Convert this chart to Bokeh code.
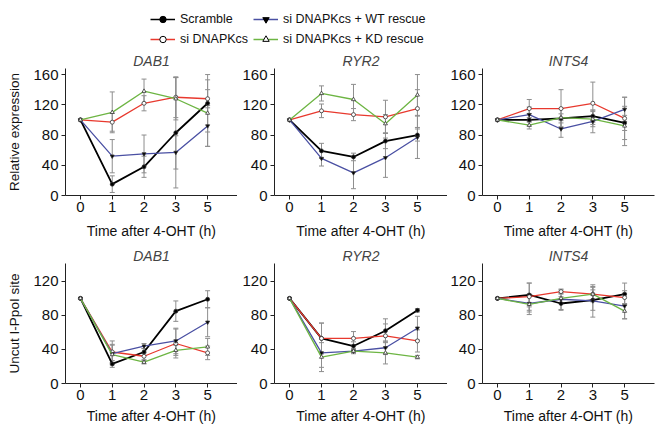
import numpy as np
from bokeh.plotting import figure
from bokeh.models import (ColumnDataSource, Range1d, FixedTicker, Whisker, TeeHead,
                          Legend, LegendItem)
from bokeh.layouts import column, row
from bokeh.embed import file_html
from bokeh.resources import INLINE

# ---------------- data ----------------
times = ["0", "1", "2", "3", "5"]
series_names = ["Scramble", "si DNAPKcs", "si DNAPKcs + WT rescue", "si DNAPKcs + KD rescue"]
genes = ["DAB1", "RYR2", "INTS4"]
top_yticks = [0, 40, 80, 120, 160]
bottom_yticks = [0, 40, 80, 120]

# Relative expression (top row)
expr_dab1_scr = [100, 15, 38, 83, 122]
expr_dab1_si = [100, 97, 122, 130, 128]
expr_dab1_wt = [100, 52, 55, 57, 92]
expr_dab1_kd = [100, 110, 138, 128, 109]
expr_dab1_scr_err = [0, 11, 14, 73, 38]
expr_dab1_si_err = [0, 12, 10, 27, 12]
expr_dab1_wt_err = [0, 22, 25, 22, 27]
expr_dab1_kd_err = [0, 27, 16, 28, 44]

expr_ryr2_scr = [100, 59, 51, 72, 80]
expr_ryr2_si = [100, 112, 107, 104, 115]
expr_ryr2_wt = [100, 49, 30, 50, 77]
expr_ryr2_kd = [100, 135, 127, 95, 133]
expr_ryr2_scr_err = [0, 10, 5, 10, 8]
expr_ryr2_si_err = [0, 9, 8, 22, 25]
expr_ryr2_wt_err = [0, 10, 21, 26, 28]
expr_ryr2_kd_err = [0, 10, 20, 12, 27]

expr_ints4_scr = [100, 100, 102, 105, 96]
expr_ints4_si = [100, 115, 115, 122, 102]
expr_ints4_wt = [100, 107, 88, 98, 114]
expr_ints4_kd = [100, 93, 103, 101, 92]
expr_ints4_scr_err = [0, 8, 6, 8, 10]
expr_ints4_si_err = [0, 12, 25, 28, 28]
expr_ints4_wt_err = [0, 10, 11, 15, 16]
expr_ints4_kd_err = [0, 5, 12, 10, 26]

# Uncut I-PpoI site (bottom row)
uncut_dab1_scr = [100, 23, 37, 85, 99]
uncut_dab1_si = [100, 37, 32, 47, 36]
uncut_dab1_wt = [100, 35, 44, 50, 72]
uncut_dab1_kd = [100, 34, 25, 39, 43]
uncut_dab1_scr_err = [0, 4, 4, 12, 10]
uncut_dab1_si_err = [0, 13, 4, 17, 8]
uncut_dab1_wt_err = [0, 10, 3, 15, 17]
uncut_dab1_kd_err = [0, 12, 2, 6, 10]

uncut_ryr2_scr = [100, 53, 44, 62, 86]
uncut_ryr2_si = [100, 53, 53, 56, 50]
uncut_ryr2_wt = [100, 36, 38, 42, 65]
uncut_ryr2_kd = [100, 31, 38, 36, 31]
uncut_ryr2_scr_err = [0, 18, 5, 14, 2]
uncut_ryr2_si_err = [0, 18, 8, 14, 13]
uncut_ryr2_wt_err = [0, 17, 3, 8, 14]
uncut_ryr2_kd_err = [0, 17, 2, 13, 2]

uncut_ints4_scr = [100, 104, 94, 98, 105]
uncut_ints4_si = [100, 102, 108, 105, 101]
uncut_ints4_wt = [100, 94, 99, 97, 91]
uncut_ints4_kd = [100, 93, 100, 105, 85]
uncut_ints4_scr_err = [0, 14, 8, 12, 13]
uncut_ints4_si_err = [0, 16, 2, 9, 8]
uncut_ints4_wt_err = [0, 10, 12, 19, 15]
uncut_ints4_kd_err = [0, 12, 5, 8, 9]

# ---------------- styles ----------------
colors = ["#000000", "#e8392e", "#4a50a3", "#6db543"]
widths = [1.8, 1.3, 1.3, 1.3]
markers = ["circle", "circle", "inverted_triangle", "triangle"]
fills = ["#000000", "#ffffff", "#000000", "#ffffff"]
ERR = "#8e8e8e"
FONT = "Liberation Sans"

top_means = [
    [expr_dab1_scr, expr_dab1_si, expr_dab1_wt, expr_dab1_kd],
    [expr_ryr2_scr, expr_ryr2_si, expr_ryr2_wt, expr_ryr2_kd],
    [expr_ints4_scr, expr_ints4_si, expr_ints4_wt, expr_ints4_kd],
]
top_errs = [
    [expr_dab1_scr_err, expr_dab1_si_err, expr_dab1_wt_err, expr_dab1_kd_err],
    [expr_ryr2_scr_err, expr_ryr2_si_err, expr_ryr2_wt_err, expr_ryr2_kd_err],
    [expr_ints4_scr_err, expr_ints4_si_err, expr_ints4_wt_err, expr_ints4_kd_err],
]
bot_means = [
    [uncut_dab1_scr, uncut_dab1_si, uncut_dab1_wt, uncut_dab1_kd],
    [uncut_ryr2_scr, uncut_ryr2_si, uncut_ryr2_wt, uncut_ryr2_kd],
    [uncut_ints4_scr, uncut_ints4_si, uncut_ints4_wt, uncut_ints4_kd],
]
bot_errs = [
    [uncut_dab1_scr_err, uncut_dab1_si_err, uncut_dab1_wt_err, uncut_dab1_kd_err],
    [uncut_ryr2_scr_err, uncut_ryr2_si_err, uncut_ryr2_wt_err, uncut_ryr2_kd_err],
    [uncut_ints4_scr_err, uncut_ints4_si_err, uncut_ints4_wt_err, uncut_ints4_kd_err],
]

xs = list(range(len(times)))
col_w = [237, 210, 208]
col_left = [65, 37, 35]
col_right = [0, 0, 1]


def make_panel(ci, gene, means, errs, yticks, ymax, height, top, bottom,
               ylabel, label_standoff):
    p = figure(width=col_w[ci], height=height,
               x_range=Range1d(-0.47, 4.94), y_range=Range1d(0, ymax),
               output_backend="svg", toolbar_location=None,
               min_border_left=col_left[ci], min_border_right=col_right[ci],
               min_border_top=top, min_border_bottom=bottom, title=gene)
    p.title.text_font = FONT
    p.title.text_font_style = "italic"
    p.title.text_font_size = "14px"
    p.title.align = "center"
    p.title.standoff = 0
    p.title.offset = 0
    p.grid.visible = False
    p.outline_line_color = None
    p.background_fill_color = "white"
    p.border_fill_color = "white"

    p.xaxis.ticker = FixedTicker(ticks=xs)
    p.xaxis.major_label_overrides = {x: t for x, t in zip(xs, times)}
    p.yaxis.ticker = FixedTicker(ticks=yticks)
    p.xaxis.axis_label = "Time after 4-OHT (h)"
    if ylabel:
        p.yaxis.axis_label = ylabel
    for ax in (p.xaxis, p.yaxis):
        ax.axis_line_color = "#222222"
        ax.major_tick_line_color = "#222222"
        ax.minor_tick_line_color = None
        ax.major_tick_out = 4
        ax.major_tick_in = 0
        ax.major_label_text_font = FONT
        ax.major_label_text_font_size = "15px"
        ax.major_label_text_color = "#111111"
        ax.axis_label_text_font = FONT
        ax.axis_label_text_font_size = "14px"
        ax.axis_label_text_font_style = "normal"
        ax.axis_label_text_color = "#111111"
        ax.major_label_standoff = 2
    p.yaxis.axis_label_text_font_size = "13.5px"
    p.xaxis.axis_label_standoff = label_standoff
    p.yaxis.axis_label_standoff = 8
    p.yaxis.major_label_standoff = 3

    for si in range(len(series_names)):
        m = np.array(means[si], dtype=float)
        e = np.array(errs[si], dtype=float)
        src = ColumnDataSource(dict(x=xs, y=m))
        p.line("x", "y", source=src, line_color=colors[si], line_width=widths[si])
        p.scatter("x", "y", source=src, marker=markers[si], size=4,
                  fill_color=fills[si], line_color="#333333", line_width=0.8)
        wsrc = ColumnDataSource(dict(x=xs[1:], upper=(m + e)[1:], lower=(m - e)[1:]))
        w = Whisker(base="x", upper="upper", lower="lower", source=wsrc,
                    line_color=ERR, line_width=1,
                    upper_head=TeeHead(size=5, line_color=ERR, line_width=1),
                    lower_head=TeeHead(size=5, line_color=ERR, line_width=1))
        p.add_layout(w)
    return p


top_row = [make_panel(i, genes[i], top_means[i], top_errs[i], top_yticks, 168,
                      195, 18, 50, "Relative expression" if i == 0 else None, 8)
           for i in range(3)]
bot_row = [make_panel(i, genes[i], bot_means[i], bot_errs[i], bottom_yticks, 141,
                      181, 18, 42, "Uncut I-PpoI site" if i == 0 else None, 5)
           for i in range(3)]

# ---------------- legend strip ----------------
# the legend strip shows the first panel's series with its view parked away
# from the data so that only the legend glyphs are visible
leg = figure(width=655, height=50, x_range=Range1d(-100, -99), y_range=Range1d(-100, -99),
             toolbar_location=None, output_backend="svg", min_border=0,
             x_axis_location=None, y_axis_location=None)
leg.outline_line_color = None
leg.grid.visible = False
items = []
for si, name in enumerate(series_names):
    src = ColumnDataSource(dict(x=xs, y=top_means[0][si]))
    lr = leg.line("x", "y", source=src, line_color=colors[si], line_width=1.5)
    sr = leg.scatter("x", "y", source=src, marker=markers[si], size=9,
                     fill_color=fills[si], line_color="#000000", line_width=1)
    items.append(LegendItem(label=name, renderers=[lr, sr]))

for xloc, its in [(150, [items[0], items[1]]), (253, [items[2], items[3]])]:
    lg = Legend(items=its, location=(xloc, 3), orientation="vertical",
                padding=0, margin=0, spacing=4, glyph_width=25, glyph_height=16,
                label_height=16, label_standoff=5,
                label_text_font=FONT, label_text_font_size="12.5px",
                label_text_color="#111111",
                background_fill_alpha=0, border_line_color=None)
    leg.add_layout(lg, "center")

layout = column(leg, row(*top_row), row(*bot_row))

open("out.html", "w").write(file_html(layout, INLINE))
